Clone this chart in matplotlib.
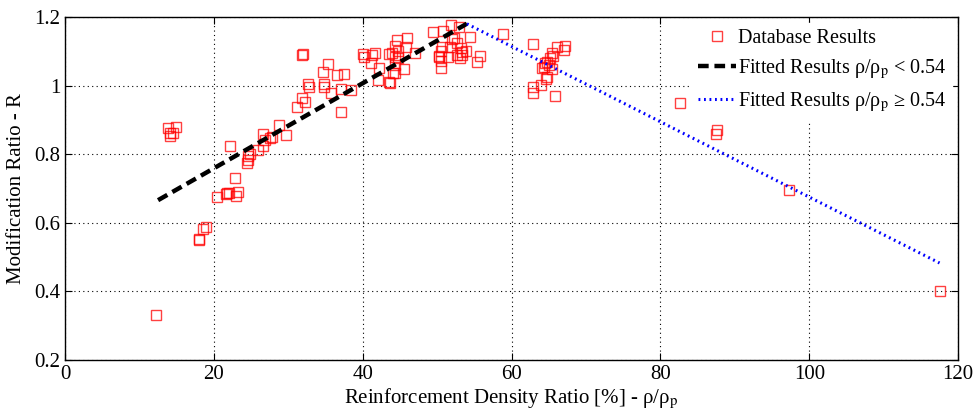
import numpy as np
import matplotlib
matplotlib.use("Agg")
import matplotlib.pyplot as plt

plt.rcParams['font.family'] = ['Liberation Serif', 'DejaVu Serif']
plt.rcParams['mathtext.fontset'] = 'stix'

# database results: reinforcement density ratio [%] and modification ratio R
rho_ratio = [12.2, 13.9, 14.9, 14.1, 14.5, 14.1,
             18.0, 18.0, 18.5, 18.9,
             20.4, 21.6, 21.8, 22.0, 23.0, 23.3, 22.8, 22.2,
             24.5, 24.6, 24.6, 24.9, 25.9, 26.6, 26.6, 26.9, 27.5, 27.8,
             28.8, 29.7, 31.2, 31.8, 32.3, 31.9, 32.0, 32.7, 32.8,
             34.6, 35.3, 34.8, 34.8, 35.8, 36.6, 37.5, 37.1, 38.4, 37.1,
             40.0, 40.2, 41.2, 41.6, 41.1, 42.2, 42.1, 43.5, 43.6,
             43.5, 43.9, 44.7, 44.4, 44.6, 45.9, 45.8, 44.4, 44.8, 44.4,
             44.0, 44.3, 45.5, 47.0,
             49.5, 50.8, 51.8, 52.9, 52.0, 52.2, 54.4,
             50.6, 50.5, 50.3, 50.2, 50.5, 50.5, 51.5, 51.7, 52.6, 53.2,
             53.4, 53.9, 52.6, 53.3, 53.1, 55.3, 55.7,
             58.9, 62.9, 66.1, 67.1, 67.2,
             65.4, 65.6, 65.2, 64.7, 64.5, 65.0, 64.3, 65.4, 64.1,
             64.7, 64.6, 63.9, 62.9, 62.9, 65.9,
             82.6, 87.6, 87.5, 97.3, 117.6]
mod_ratio = [0.330, 0.875, 0.880, 0.861, 0.861, 0.853,
             0.553, 0.550, 0.582, 0.589,
             0.676, 0.684, 0.688, 0.686, 0.679, 0.690, 0.730, 0.825,
             0.773, 0.783, 0.795, 0.802, 0.812, 0.824, 0.859, 0.841, 0.846, 0.851,
             0.885, 0.856, 0.938, 0.963, 0.953, 1.090, 1.093, 1.004, 0.997,
             1.040, 1.062, 1.005, 0.995, 0.979, 1.031, 1.033, 0.989, 0.987, 0.924,
             1.092, 1.082, 1.089, 1.096, 1.065, 1.050, 1.016, 1.011, 1.007,
             1.092, 1.096, 1.102, 1.115, 1.133, 1.138, 1.112, 1.084, 1.080, 1.060,
             1.036, 1.038, 1.048, 1.094,
             1.155, 1.159, 1.177, 1.172, 1.136, 1.140, 1.141,
             1.113, 1.101, 1.084, 1.086, 1.071, 1.050, 1.084, 1.113, 1.123, 1.109,
             1.099, 1.101, 1.089, 1.089, 1.080, 1.070, 1.087,
             1.150, 1.120, 1.113, 1.104, 1.116,
             1.094, 1.087, 1.080, 1.070, 1.065, 1.060, 1.055, 1.048, 1.052,
             1.026, 1.019, 1.002, 0.997, 0.978, 0.970,
             0.950, 0.871, 0.859, 0.695, 0.400]

# fitted lines (intercept, slope) and their ranges
fit_low = (0.511, 0.0124)
fit_low_range = (12.5, 54.0)
fit_high = (1.773, -0.01098)
fit_high_range = (54.0, 117.5)

fig = plt.figure(figsize=(9.75, 4.15), dpi=100)
ax = fig.add_axes([0.0667, 0.1325, 0.916, 0.8265])

ax.plot(rho_ratio, mod_ratio, 's', ms=7.5, mfc='none', mec='red', mew=1.0,
        alpha=0.75, label='Database Results')

x1 = np.linspace(*fit_low_range, 50)
ax.plot(x1, fit_low[0] + fit_low[1] * x1, color='black', lw=3.2,
        ls=(0, (2.4, 1.3)), label=r'Fitted Results ρ/ρ$_\mathrm{p}$ < 0.54')
x2 = np.linspace(*fit_high_range, 50)
ax.plot(x2, fit_high[0] + fit_high[1] * x2, color='blue', lw=2.2,
        ls=(0, (0.6, 1.2)), label=r'Fitted Results ρ/ρ$_\mathrm{p}$ ≥ 0.54')

ax.set_xlim(0, 120)
ax.set_ylim(0.2, 1.2)
ax.set_xticks(np.arange(0, 121, 20))
ax.set_yticks([0.2, 0.4, 0.6, 0.8, 1.0, 1.2])
ax.set_yticklabels(['0.2', '0.4', '0.6', '0.8', '1', '1.2'])
ax.tick_params(direction='in', top=True, right=True, labelsize=15, length=5)
ax.grid(True, color='black', ls=(0, (1, 3)), lw=0.8)
for s in ax.spines.values():
    s.set_linewidth(1.0)

ax.set_xlabel(r'Reinforcement Density Ratio [%] - ρ/ρ$_\mathrm{p}$', fontsize=15, labelpad=2)
ax.set_ylabel('Modification Ratio - R', fontsize=15, labelpad=6)

leg = ax.legend(loc='upper right', fontsize=14.5, frameon=True, fancybox=False,
                edgecolor='white', framealpha=1, handlelength=1.9,
                handletextpad=0.05, borderaxespad=0.3, borderpad=0.3,
                labelspacing=0.45)

fig.savefig('out.png', dpi=100)
